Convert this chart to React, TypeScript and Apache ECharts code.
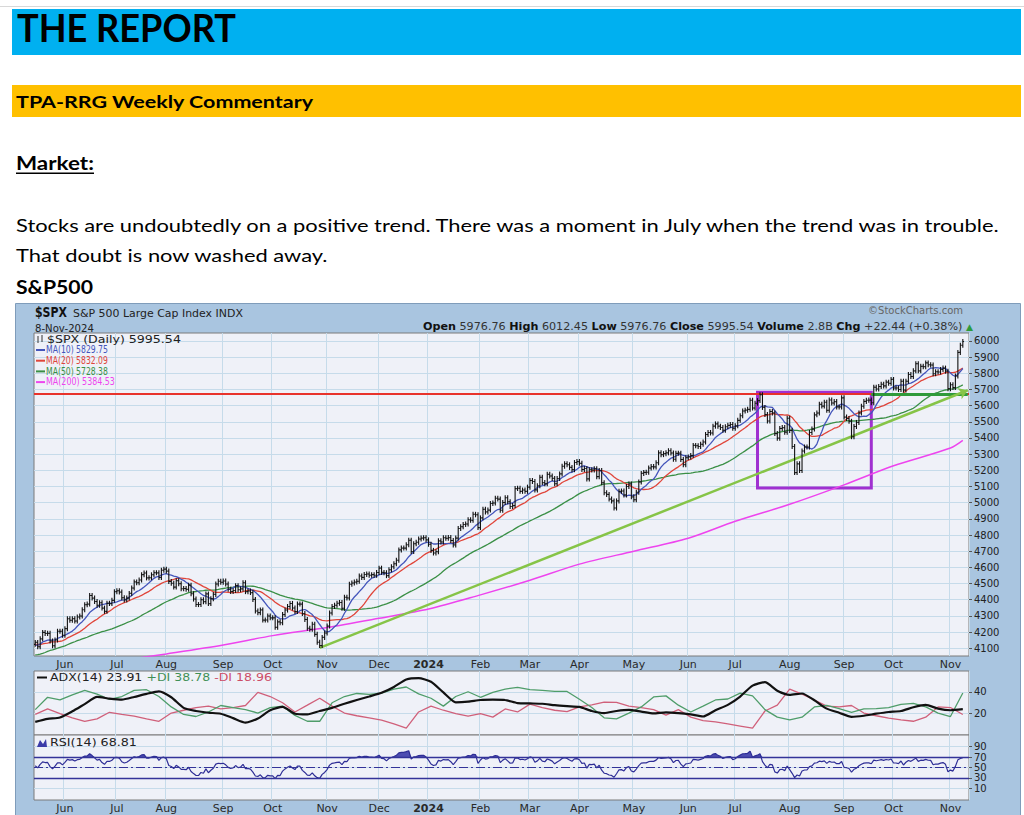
import React, { useEffect, useRef } from "react";
import * as echarts from "echarts";

// ---------------- document texts ----------------
const DOC_TITLE = "THE REPORT";
const DOC_SUBTITLE = "TPA-RRG Weekly Commentary";
const DOC_SECTION = "Market:";
const DOC_LINE1 =
  "Stocks are undoubtedly on a positive trend. There was a moment in July when the trend was in trouble.";
const DOC_LINE2 = "That doubt is now washed away.";
const DOC_CHART_TITLE = "S&P500";

// ---------------- chart header texts ----------------
const HDR_SYMBOL = "$SPX";
const HDR_NAME = "S&P 500 Large Cap Index INDX";
const HDR_DATE = "8-Nov-2024";
const HDR_COPY = "\u00A9StockCharts.com";
const HDR_QUOTE: [string, string][] = [
  ["b", "Open"], ["r", " 5976.76 "], ["b", "High"], ["r", " 6012.45 "], ["b", "Low"], ["r", " 5976.76 "],
  ["b", "Close"], ["r", " 5995.54 "], ["b", "Volume"], ["r", " 2.8B "], ["b", "Chg"], ["r", " +22.44 (+0.38%) "], ["g", "\u25B2"],
];
const LEG_PRICE = "$SPX (Daily) 5995.54";
const LEG_MA: [string, string][] = [
  ["MA(10) 5829.75", "#4455bb"],
  ["MA(20) 5832.09", "#e0453a"],
  ["MA(50) 5728.38", "#3a8f45"],
  ["MA(200) 5384.53", "#ee44ee"],
];
const LEG_ADX: [string, string][] = [["k", "ADX(14) 23.91 "], ["g", "+DI 38.78 "], ["p", "-DI 18.96"]];
const LEG_RSI = "RSI(14) 68.81";

// ---------------- price data (daily closes) ----------------
// warm-up closes (3 Mar – 12 May 2023), not drawn, used for the moving averages / RSI
const HISTORY_2023 = [
  4046, 4048, 3986, 3992, 3919, 3862, 3855, 3920, 3892, 3960, 3917, 3952, 4003, 3937, 3949, 3971, 3978, 3971, 4028, 4051, 4109,
  4125, 4101, 4091, 4105, 4110, 4109, 4092, 4146, 4138, 4152, 4155, 4155, 4130, 4133, 4137, 4072, 4056, 4136, 4169,
  4168, 4120, 4091, 4061, 4136, 4138, 4119, 4138, 4131, 4124,
];
const MAY_2023 = [4136, 4109, 4158, 4198, 4191, 4192, 4145, 4115, 4151, 4205, 4205, 4180];
const JUN_2023 = [4221, 4282, 4273, 4283, 4268, 4293, 4299, 4338, 4369, 4373, 4426, 4410, 4389, 4366, 4381, 4348, 4328, 4378, 4376, 4396, 4450];
const JUL_2023 = [4455, 4447, 4412, 4399, 4410, 4439, 4472, 4510, 4505, 4522, 4555, 4565, 4535, 4536, 4554, 4567, 4566, 4537, 4582, 4589];
const AUG_2023 = [4577, 4513, 4502, 4478, 4518, 4499, 4468, 4469, 4464, 4490, 4437, 4404, 4370, 4370, 4400, 4388, 4436, 4376, 4406, 4433, 4497, 4514, 4508];
const SEP_2023 = [4516, 4497, 4465, 4451, 4457, 4487, 4462, 4467, 4505, 4450, 4454, 4444, 4402, 4330, 4320, 4337, 4274, 4275, 4299, 4288];
const OCT_2023 = [4288, 4229, 4263, 4258, 4308, 4336, 4358, 4377, 4349, 4327, 4373, 4373, 4314, 4278, 4224, 4217, 4248, 4186, 4137, 4117, 4167, 4194];
const NOV_2023 = [4237, 4318, 4358, 4366, 4378, 4383, 4347, 4415, 4411, 4496, 4503, 4509, 4514, 4547, 4538, 4556, 4559, 4551, 4555, 4551, 4568];
const DEC_2023 = [4595, 4569, 4567, 4549, 4585, 4604, 4622, 4644, 4708, 4719, 4719, 4740, 4768, 4698, 4746, 4755, 4775, 4781, 4783, 4770];
const JAN_2024 = [4743, 4705, 4689, 4697, 4764, 4757, 4783, 4780, 4784, 4766, 4739, 4781, 4840, 4851, 4865, 4868, 4894, 4891, 4928, 4925, 4846];
const FEB_2024 = [4906, 4959, 4943, 4954, 4995, 4998, 5027, 5022, 4953, 5001, 5030, 5006, 4976, 4982, 5087, 5089, 5070, 5078, 5070, 5096];
const MAR_2024 = [5137, 5131, 5079, 5105, 5157, 5124, 5117, 5175, 5165, 5150, 5117, 5149, 5178, 5225, 5241, 5234, 5218, 5204, 5248, 5254];
const APR_2024 = [5243, 5205, 5211, 5147, 5204, 5202, 5209, 5161, 5199, 5123, 5061, 5051, 5022, 5011, 4967, 5011, 5070, 5072, 5048, 5100, 5116, 5036];
const MAY_2024 = [5018, 5064, 5128, 5181, 5187, 5188, 5214, 5223, 5221, 5247, 5308, 5297, 5303, 5308, 5321, 5307, 5268, 5305, 5306, 5267, 5235, 5278];
const JUN_2024 = [5283, 5291, 5354, 5352, 5347, 5361, 5375, 5421, 5434, 5431, 5473, 5487, 5473, 5465, 5448, 5469, 5478, 5483, 5460];
const JUL_2024 = [5475, 5509, 5537, 5567, 5572, 5577, 5633, 5585, 5615, 5631, 5667, 5589, 5545, 5505, 5564, 5555, 5427, 5399, 5459, 5464, 5436, 5522];
const AUG_2024 = [5446, 5347, 5186, 5240, 5199, 5319, 5344, 5344, 5434, 5455, 5543, 5554, 5608, 5597, 5621, 5571, 5635, 5616, 5625, 5592, 5592, 5648];
const SEP_2024 = [5529, 5520, 5503, 5408, 5471, 5496, 5554, 5596, 5626, 5633, 5634, 5618, 5714, 5703, 5718, 5732, 5722, 5745, 5738, 5762];
const OCT_2024 = [5709, 5709, 5700, 5751, 5696, 5751, 5792, 5780, 5815, 5859, 5815, 5843, 5841, 5864, 5853, 5851, 5797, 5809, 5808, 5823, 5832, 5813, 5705];
const NOV_2024 = [5729, 5712, 5783, 5929, 5973, 5996];

const MONTHS: [string, number[]][] = [
  ["2023-05", MAY_2023], ["2023-06", JUN_2023], ["2023-07", JUL_2023], ["2023-08", AUG_2023], ["2023-09", SEP_2023],
  ["2023-10", OCT_2023], ["2023-11", NOV_2023], ["2023-12", DEC_2023], ["2024-01", JAN_2024], ["2024-02", FEB_2024],
  ["2024-03", MAR_2024], ["2024-04", APR_2024], ["2024-05", MAY_2024], ["2024-06", JUN_2024], ["2024-07", JUL_2024],
  ["2024-08", AUG_2024], ["2024-09", SEP_2024], ["2024-10", OCT_2024], ["2024-11", NOV_2024],
];
const MONTH_ABBR = ["Jan", "Feb", "Mar", "Apr", "May", "Jun", "Jul", "Aug", "Sep", "Oct", "Nov", "Dec"];

// 200-day moving average (first trading day of each month + last day)
const MA200_KEYS = ["2023-07-1", "2023-08-1", "2023-09-1", "2023-10-1", "2023-11-1", "2023-12-1", "2024-01-1", "2024-02-1", "2024-03-1",
  "2024-04-1", "2024-05-1", "2024-06-1", "2024-07-1", "2024-08-1", "2024-09-1", "2024-10-1", "2024-11-1", "2024-11-6"];
const MA200_VALUES = [4020, 4065, 4120, 4178, 4228, 4285, 4342, 4430, 4520, 4620, 4700, 4780, 4885, 4990, 5110, 5228, 5338, 5385];

// ADX / DI, one reading every 5 trading days
const ADX_WEEKLY = [12.1, 14.9, 16.2, 21.9, 28.6, 35.2, 33.7, 32.7, 35.2, 38.1, 40.3, 34.9, 25.1, 22.2, 20.6, 19.7, 15.6, 11.4, 15.2, 22.9,
  26.0, 19.7, 19.0, 22.2, 25.1, 28.9, 32.4, 35.6, 39.0, 44.4, 51.4, 52.7, 49.2, 39.4, 30.2, 30.8, 32.4, 32.7, 32.4, 29.5,
  29.2, 28.9, 27.6, 26.7, 26.0, 22.2, 20.3, 22.2, 23.2, 21.6, 20.0, 21.0, 20.3, 19.0, 17.1, 22.9, 27.9, 35.6, 45.7, 48.9,
  41.0, 37.1, 38.4, 32.1, 24.4, 20.6, 16.8, 17.8, 19.7, 21.3, 22.2, 25.7, 27.9, 24.4, 22.9, 23.9];
const PDI_WEEKLY = [23.5, 34.9, 32.4, 37.1, 41.3, 37.8, 33.0, 35.6, 41.3, 41.9, 35.6, 26.0, 19.0, 17.1, 21.3, 27.3, 25.4, 23.5, 20.3, 25.4,
  26.7, 18.1, 12.7, 12.7, 29.8, 35.6, 38.4, 37.5, 38.7, 42.5, 44.4, 38.1, 34.0, 26.7, 35.6, 40.0, 34.9, 39.4, 42.5, 44.1,
  41.9, 41.3, 40.3, 40.3, 33.0, 25.4, 15.9, 14.9, 20.3, 26.0, 35.2, 36.2, 27.6, 21.3, 26.7, 32.4, 33.3, 38.7, 36.2, 23.5,
  16.5, 14.0, 16.5, 26.0, 27.3, 24.4, 21.0, 24.1, 24.4, 25.4, 28.3, 29.2, 26.0, 20.3, 17.1, 38.8];
const MDI_WEEKLY = [19.0, 24.1, 19.7, 15.9, 12.7, 14.9, 21.0, 19.0, 17.5, 14.9, 12.7, 20.3, 22.9, 25.4, 26.7, 24.1, 25.4, 27.3, 39.4, 35.6,
  29.8, 21.3, 27.6, 34.0, 26.7, 20.3, 17.8, 15.9, 13.7, 10.2, 6.3, 21.3, 26.7, 22.9, 19.7, 17.5, 19.7, 16.5, 24.1, 21.3,
  28.6, 25.4, 22.9, 21.6, 26.0, 27.9, 30.5, 30.2, 26.7, 25.4, 23.5, 18.4, 23.5, 16.5, 13.3, 12.1, 10.2, 8.3, 6.3, 22.2,
  27.6, 42.5, 37.8, 32.4, 26.7, 26.0, 27.3, 20.3, 17.8, 15.6, 14.0, 12.7, 16.5, 26.0, 25.4, 19.0];

// tick labels
const PRICE_TICKS = [4100, 4200, 4300, 4400, 4500, 4600, 4700, 4800, 4900, 5000, 5100, 5200, 5300, 5400, 5500, 5600, 5700, 5800, 5900, 6000];
const ADX_TICKS = [20, 40];
const RSI_TICKS = [10, 30, 50, 70, 90];

// annotations
const RESISTANCE = 5672;
const BOX_FROM = "2024-07-10";
const BOX_TO = "2024-09-12";
const BOX_TOP = 5682;
const BOX_BOTTOM = 5090;
const TREND_FROM: [string, number] = ["2023-10-20", 4102];
const TREND_TO: [string, number] = ["pad-2", 5695];

// ---------------- derived structures ----------------
const CATS: string[] = [];
const CLOSES: number[] = [];
const MONTH_LABEL: string[] = [];
MONTHS.forEach(([m, arr], mi) => {
  arr.forEach((c, i) => {
    CATS.push(`${m}-${i + 1}`);
    CLOSES.push(c);
    let lab = "";
    if (i === 0 && mi > 0) {
      const [y, mm] = m.split("-");
      lab = mm === "01" ? y : MONTH_ABBR[+mm - 1];
    }
    MONTH_LABEL.push(lab);
  });
});
CATS.push("pad-1", "pad-2");
MONTH_LABEL.push("", "");

const ALL = HISTORY_2023.concat(CLOSES);
const OFF = HISTORY_2023.length;

function sma(n: number) {
  return CLOSES.map((_, i) => {
    const g = i + OFF;
    if (g - n + 1 < 0) return null;
    let s = 0;
    for (let j = g - n + 1; j <= g; j++) s += ALL[j];
    return +(s / n).toFixed(2);
  });
}
function rsi(n: number) {
  const out: (number | null)[] = ALL.map(() => null);
  let ag = 0, al = 0;
  for (let i = 1; i < ALL.length; i++) {
    const d = ALL[i] - ALL[i - 1];
    const g = Math.max(d, 0), l = Math.max(-d, 0);
    if (i <= n) {
      ag += g / n; al += l / n;
      if (i === n) out[i] = 100 - 100 / (1 + ag / al);
    } else {
      ag = (ag * (n - 1) + g) / n; al = (al * (n - 1) + l) / n;
      out[i] = 100 - 100 / (1 + ag / al);
    }
  }
  return out.slice(OFF).map((v) => (v == null ? null : +v.toFixed(2)));
}

export default function App() {
  const ref = useRef<HTMLDivElement>(null);
  useEffect(() => {
    if (!ref.current) return;
    const chart = echarts.init(ref.current, undefined, { renderer: "svg" });
    const ctx = document.createElement("canvas").getContext("2d")!;
    const measure = (t: string, family: string, size: number, weight = "normal") => {
      ctx.font = `${weight} ${size}px "${family}"`;
      return ctx.measureText(t).width;
    };
    const txt = (o: any) => {
      const weight = o.weight || "normal";
      const w = measure(o.text, o.family, o.size, weight);
      const sx = o.scale != null ? o.scale : o.width ? o.width / w : 1;
      return {
        type: "text", x: o.x, y: o.y, scaleX: sx, z: o.z ?? 50,
        style: {
          text: o.text, fontFamily: o.family, fontSize: o.size, fontWeight: weight, fill: o.color || "#000",
          textAlign: o.align || "left", align: o.align || "left", textVerticalAlign: "middle", verticalAlign: "middle",
        },
      };
    };
    const rich = (segs: [string, string][], styles: any, x: number, y: number, width: number, align = "left", z = 50) => {
      let w = 0;
      segs.forEach(([k, t]) => { const s = styles[k]; w += measure(t, s.fontFamily, s.fontSize, s.fontWeight || "normal"); });
      return {
        type: "text", x, y, scaleX: width / w, z,
        style: {
          text: segs.map(([k, t]) => `{${k}|${t}}`).join(""), rich: styles,
          textAlign: align, align, textVerticalAlign: "middle", verticalAlign: "middle",
        },
      };
    };

    const bars = CLOSES.map((c, i) => {
      const o = ALL[i + OFF - 1];
      return [i, o, Math.max(o, c), Math.min(o, c), c];
    });
    const ma10 = sma(10), ma20 = sma(20), ma50 = sma(50);
    const rsiVals = rsi(14);
    const weekly = (arr: number[]) => arr.map((v, k) => [CATS[5 * k], v]);

    const line1W = 987;
    const line1Scale = line1W / measure(DOC_LINE1, "Lato", 18);
    const F = "DejaVu Sans";

    const graphic: any[] = [
      { type: "rect", shape: { x: 0, y: 6, width: 1024, height: 1 }, style: { fill: "#d8d8d8" }, z: -20 },
      { type: "rect", shape: { x: 12, y: 9, width: 1009, height: 46 }, style: { fill: "#00b0f0" }, z: -20 },
      txt({ text: DOC_TITLE, x: 17, y: 27, family: "Lato", size: 39, weight: "bold", width: 219 }),
      { type: "rect", shape: { x: 12, y: 85, width: 1009, height: 32 }, style: { fill: "#ffc000" }, z: -20 },
      txt({ text: DOC_SUBTITLE, x: 16, y: 101, family: "Lato", size: 17, weight: "bold", width: 298 }),
      txt({ text: DOC_SECTION, x: 16, y: 163, family: "Lato", size: 18, weight: "bold", width: 78 }),
      { type: "rect", shape: { x: 16, y: 172.5, width: 78, height: 1.5 }, style: { fill: "#000" } },
      txt({ text: DOC_LINE1, x: 16, y: 225, family: "Lato", size: 18, scale: line1Scale }),
      txt({ text: DOC_LINE2, x: 16, y: 255, family: "Lato", size: 18, scale: line1Scale }),
      txt({ text: DOC_CHART_TITLE, x: 16, y: 287, family: "Lato", size: 18, weight: "bold", width: 77 }),
      // chart frame
      { type: "rect", shape: { x: 15.5, y: 303.5, width: 1005, height: 530 }, style: { fill: "#a9c5e0", stroke: "#7f9cba", lineWidth: 1 }, z: -20 },
      txt({ text: HDR_SYMBOL, x: 35, y: 312, family: F, size: 14, weight: "bold", width: 32, color: "#111" }),
      txt({ text: HDR_NAME, x: 73, y: 313, family: F, size: 11, width: 170, color: "#222" }),
      txt({ text: HDR_DATE, x: 35, y: 328, family: F, size: 10.5, width: 59, color: "#222" }),
      txt({ text: HDR_COPY, x: 963, y: 311, family: F, size: 10, width: 95, color: "#666", align: "right" }),
      rich(HDR_QUOTE, {
        b: { fontFamily: F, fontSize: 11, fontWeight: "bold", fill: "#111" },
        r: { fontFamily: F, fontSize: 11, fontWeight: "normal", fill: "#333" },
        g: { fontFamily: F, fontSize: 9, fontWeight: "normal", fill: "#2e9a3a" },
      }, 973, 327, 550, "right"),
      // price legend
      { type: "line", shape: { x1: 38, y1: 336, x2: 38, y2: 343 }, style: { stroke: "#333", lineWidth: 1 }, z: 50 },
      { type: "line", shape: { x1: 42, y1: 335, x2: 42, y2: 342 }, style: { stroke: "#333", lineWidth: 1 }, z: 50 },
      txt({ text: LEG_PRICE, x: 47, y: 339, family: F, size: 11, width: 134, color: "#222" }),
      ...LEG_MA.flatMap(([t, c], i) => {
        const y = 350 + i * 10.7;
        return [
          { type: "line", shape: { x1: 36, y1: y, x2: 45, y2: y }, style: { stroke: c, lineWidth: 2 }, z: 50 },
          txt({ text: t, x: 46, y, family: F, size: 10, width: i === 3 ? 69 : 62, color: c }),
        ];
      }),
      // ADX legend
      { type: "line", shape: { x1: 37, y1: 677.5, x2: 47, y2: 677.5 }, style: { stroke: "#111", lineWidth: 2 }, z: 50 },
      rich(LEG_ADX, {
        k: { fontFamily: F, fontSize: 11, fill: "#222" },
        g: { fontFamily: F, fontSize: 11, fill: "#3f8f55" },
        p: { fontFamily: F, fontSize: 11, fill: "#cc4c66" },
      }, 50, 677.5, 222),
      // RSI legend
      { type: "polygon", shape: { points: [[37, 747], [40, 740], [43, 744], [46, 739], [47, 747]] }, style: { fill: "#3b3ba8" }, z: 50 },
      txt({ text: LEG_RSI, x: 50, y: 742.5, family: F, size: 11, width: 87, color: "#222" }),
    ];

    const gridStyle = { show: true, backgroundColor: "#eff1f8", borderColor: "#7a7a7a", borderWidth: 1, containLabel: false, outerBoundsMode: "none" };
    const monthInterval = (i: number) => !!MONTH_LABEL[i];
    const xAxis = (gridIndex: number, showLabel: boolean) => ({
      type: "category", gridIndex, data: CATS, boundaryGap: true,
      axisLine: { show: false }, axisTick: { show: false },
      axisLabel: {
        show: showLabel, interval: monthInterval, margin: 3, color: "#2a2a2a", fontFamily: F, fontSize: 11,
        formatter: (_v: string, i: number) => (MONTH_LABEL[i] === "2024" ? "{b|2024}" : MONTH_LABEL[i]),
        rich: { b: { fontWeight: "bold", fontFamily: F, fontSize: 11, color: "#2a2a2a" } },
      },
      splitLine: { show: true, interval: monthInterval, lineStyle: { color: "#c6dbea", width: 1 } },
    });
    const yAxis = (gridIndex: number, min: number, max: number, ticks: number[], gridTicks: number[]) => ({
      type: "value", gridIndex, position: "right", min, max,
      axisLine: { show: false },
      axisTick: { show: true, length: 3, lineStyle: { color: "#555" }, customValues: gridTicks },
      axisLabel: { customValues: ticks, color: "#222", fontFamily: F, fontSize: 10, margin: 5, formatter: (v: number) => String(v) },
      splitLine: { show: true, lineStyle: { color: "#c6dbea", width: 1 } },
    });

    const option: any = {
      animation: false,
      backgroundColor: "#ffffff",
      graphic,
      grid: [
        { left: 34, top: 333, width: 935, height: 323, ...gridStyle },
        { left: 34, top: 671, width: 935, height: 64, ...gridStyle },
        { left: 34, top: 735, width: 935, height: 65, ...gridStyle },
      ],
      xAxis: [xAxis(0, true), xAxis(1, false), xAxis(2, true)],
      yAxis: [
        yAxis(0, 4052, 6049, PRICE_TICKS, PRICE_TICKS),
        yAxis(1, 0, 59.2, ADX_TICKS, ADX_TICKS),
        yAxis(2, -12.5, 112.5, RSI_TICKS, RSI_TICKS),
      ],
      series: [
        { type: "line", name: "MA200", xAxisIndex: 0, yAxisIndex: 0, data: MA200_KEYS.map((k, i) => [k, MA200_VALUES[i]]), showSymbol: false, smooth: 0.3, lineStyle: { color: "#ee44ee", width: 1.5 }, z: 3 },
        { type: "line", name: "MA50", xAxisIndex: 0, yAxisIndex: 0, data: ma50, showSymbol: false, lineStyle: { color: "#3a8f45", width: 1.3 }, z: 3 },
        { type: "line", name: "MA20", xAxisIndex: 0, yAxisIndex: 0, data: ma20, showSymbol: false, lineStyle: { color: "#e0453a", width: 1.3 }, z: 3 },
        { type: "line", name: "MA10", xAxisIndex: 0, yAxisIndex: 0, data: ma10, showSymbol: false, lineStyle: { color: "#4455bb", width: 1.3 }, z: 3 },
        {
          type: "custom", name: "SPX", xAxisIndex: 0, yAxisIndex: 0, data: bars, encode: { x: 0, y: [1, 2, 3, 4] }, z: 5, clip: true,
          renderItem: (_p: any, api: any) => {
            const i = api.value(0);
            const ph = api.coord([i, api.value(2)]);
            const pl = api.coord([i, api.value(3)]);
            const po = api.coord([i, api.value(1)]);
            const pc = api.coord([i, api.value(4)]);
            const half = api.size([1, 0])[0] * 0.5;
            const st = { stroke: "#111", lineWidth: 1.1 };
            return {
              type: "group",
              children: [
                { type: "line", shape: { x1: ph[0], y1: ph[1] - 2.5, x2: ph[0], y2: pl[1] + 2.5 }, style: st },
                { type: "line", shape: { x1: po[0] - half, y1: po[1], x2: po[0], y2: po[1] }, style: st },
                { type: "line", shape: { x1: pc[0], y1: pc[1], x2: pc[0] + half, y2: pc[1] }, style: st },
              ],
            };
          },
        },
        {
          type: "line", name: "annotations", xAxisIndex: 0, yAxisIndex: 0, data: CATS.map(() => null), showSymbol: false, z: 8, silent: true,
          markLine: {
            silent: true, symbol: ["none", "none"], label: { show: false },
            data: [
              { yAxis: RESISTANCE, lineStyle: { color: "#e8322b", width: 2, type: "solid" } },
              [{ coord: [BOX_TO, RESISTANCE], lineStyle: { color: "#2f9a3a", width: 3, type: "solid" } }, { coord: ["pad-2", RESISTANCE] }],
              [{ coord: TREND_FROM, lineStyle: { color: "#86c447", width: 2.5, type: "solid" } }, { coord: TREND_TO, symbol: "arrow", symbolSize: 9 }],
            ],
          },
          markArea: {
            silent: true,
            itemStyle: { color: "rgba(0,0,0,0)", borderColor: "#a030d0", borderWidth: 3 },
            data: [[{ xAxis: BOX_FROM, yAxis: BOX_TOP }, { xAxis: BOX_TO, yAxis: BOX_BOTTOM }]],
          },
        },
        { type: "line", name: "-DI", xAxisIndex: 1, yAxisIndex: 1, data: weekly(MDI_WEEKLY), showSymbol: false, lineStyle: { color: "#d0607a", width: 1.3 }, z: 3 },
        { type: "line", name: "+DI", xAxisIndex: 1, yAxisIndex: 1, data: weekly(PDI_WEEKLY), showSymbol: false, lineStyle: { color: "#4f9d6a", width: 1.3 }, z: 3 },
        { type: "line", name: "ADX", xAxisIndex: 1, yAxisIndex: 1, data: weekly(ADX_WEEKLY), showSymbol: false, smooth: 0.2, lineStyle: { color: "#111111", width: 2.2 }, z: 4 },
        { type: "line", name: "rsiBase", xAxisIndex: 2, yAxisIndex: 2, stack: "ob", data: rsiVals.map(() => 70), showSymbol: false, lineStyle: { opacity: 0 }, silent: true, z: 2 },
        { type: "line", name: "rsiOver", xAxisIndex: 2, yAxisIndex: 2, stack: "ob", data: rsiVals.map((v) => (v == null ? null : Math.max(0, +(v - 70).toFixed(2)))), showSymbol: false, lineStyle: { opacity: 0 }, areaStyle: { color: "#3b3ba8", opacity: 0.9 }, silent: true, z: 2 },
        {
          type: "line", name: "RSI", xAxisIndex: 2, yAxisIndex: 2, data: rsiVals, showSymbol: false, lineStyle: { color: "#2e2e96", width: 1.2 }, z: 4,
          markLine: {
            silent: true, symbol: ["none", "none"], label: { show: false },
            data: [
              { yAxis: 70, lineStyle: { color: "#333399", width: 1.3, type: "solid" } },
              { yAxis: 30, lineStyle: { color: "#333399", width: 1.3, type: "solid" } },
              { yAxis: 50, lineStyle: { color: "#333399", width: 1, type: [9, 3, 2, 3] } },
            ],
          },
        },
      ],
    };
    chart.setOption(option);
    return () => chart.dispose();
  }, []);
  return <div ref={ref} style={{ position: "absolute", left: 0, top: 0, width: 1024, height: 815 }} />;
}
